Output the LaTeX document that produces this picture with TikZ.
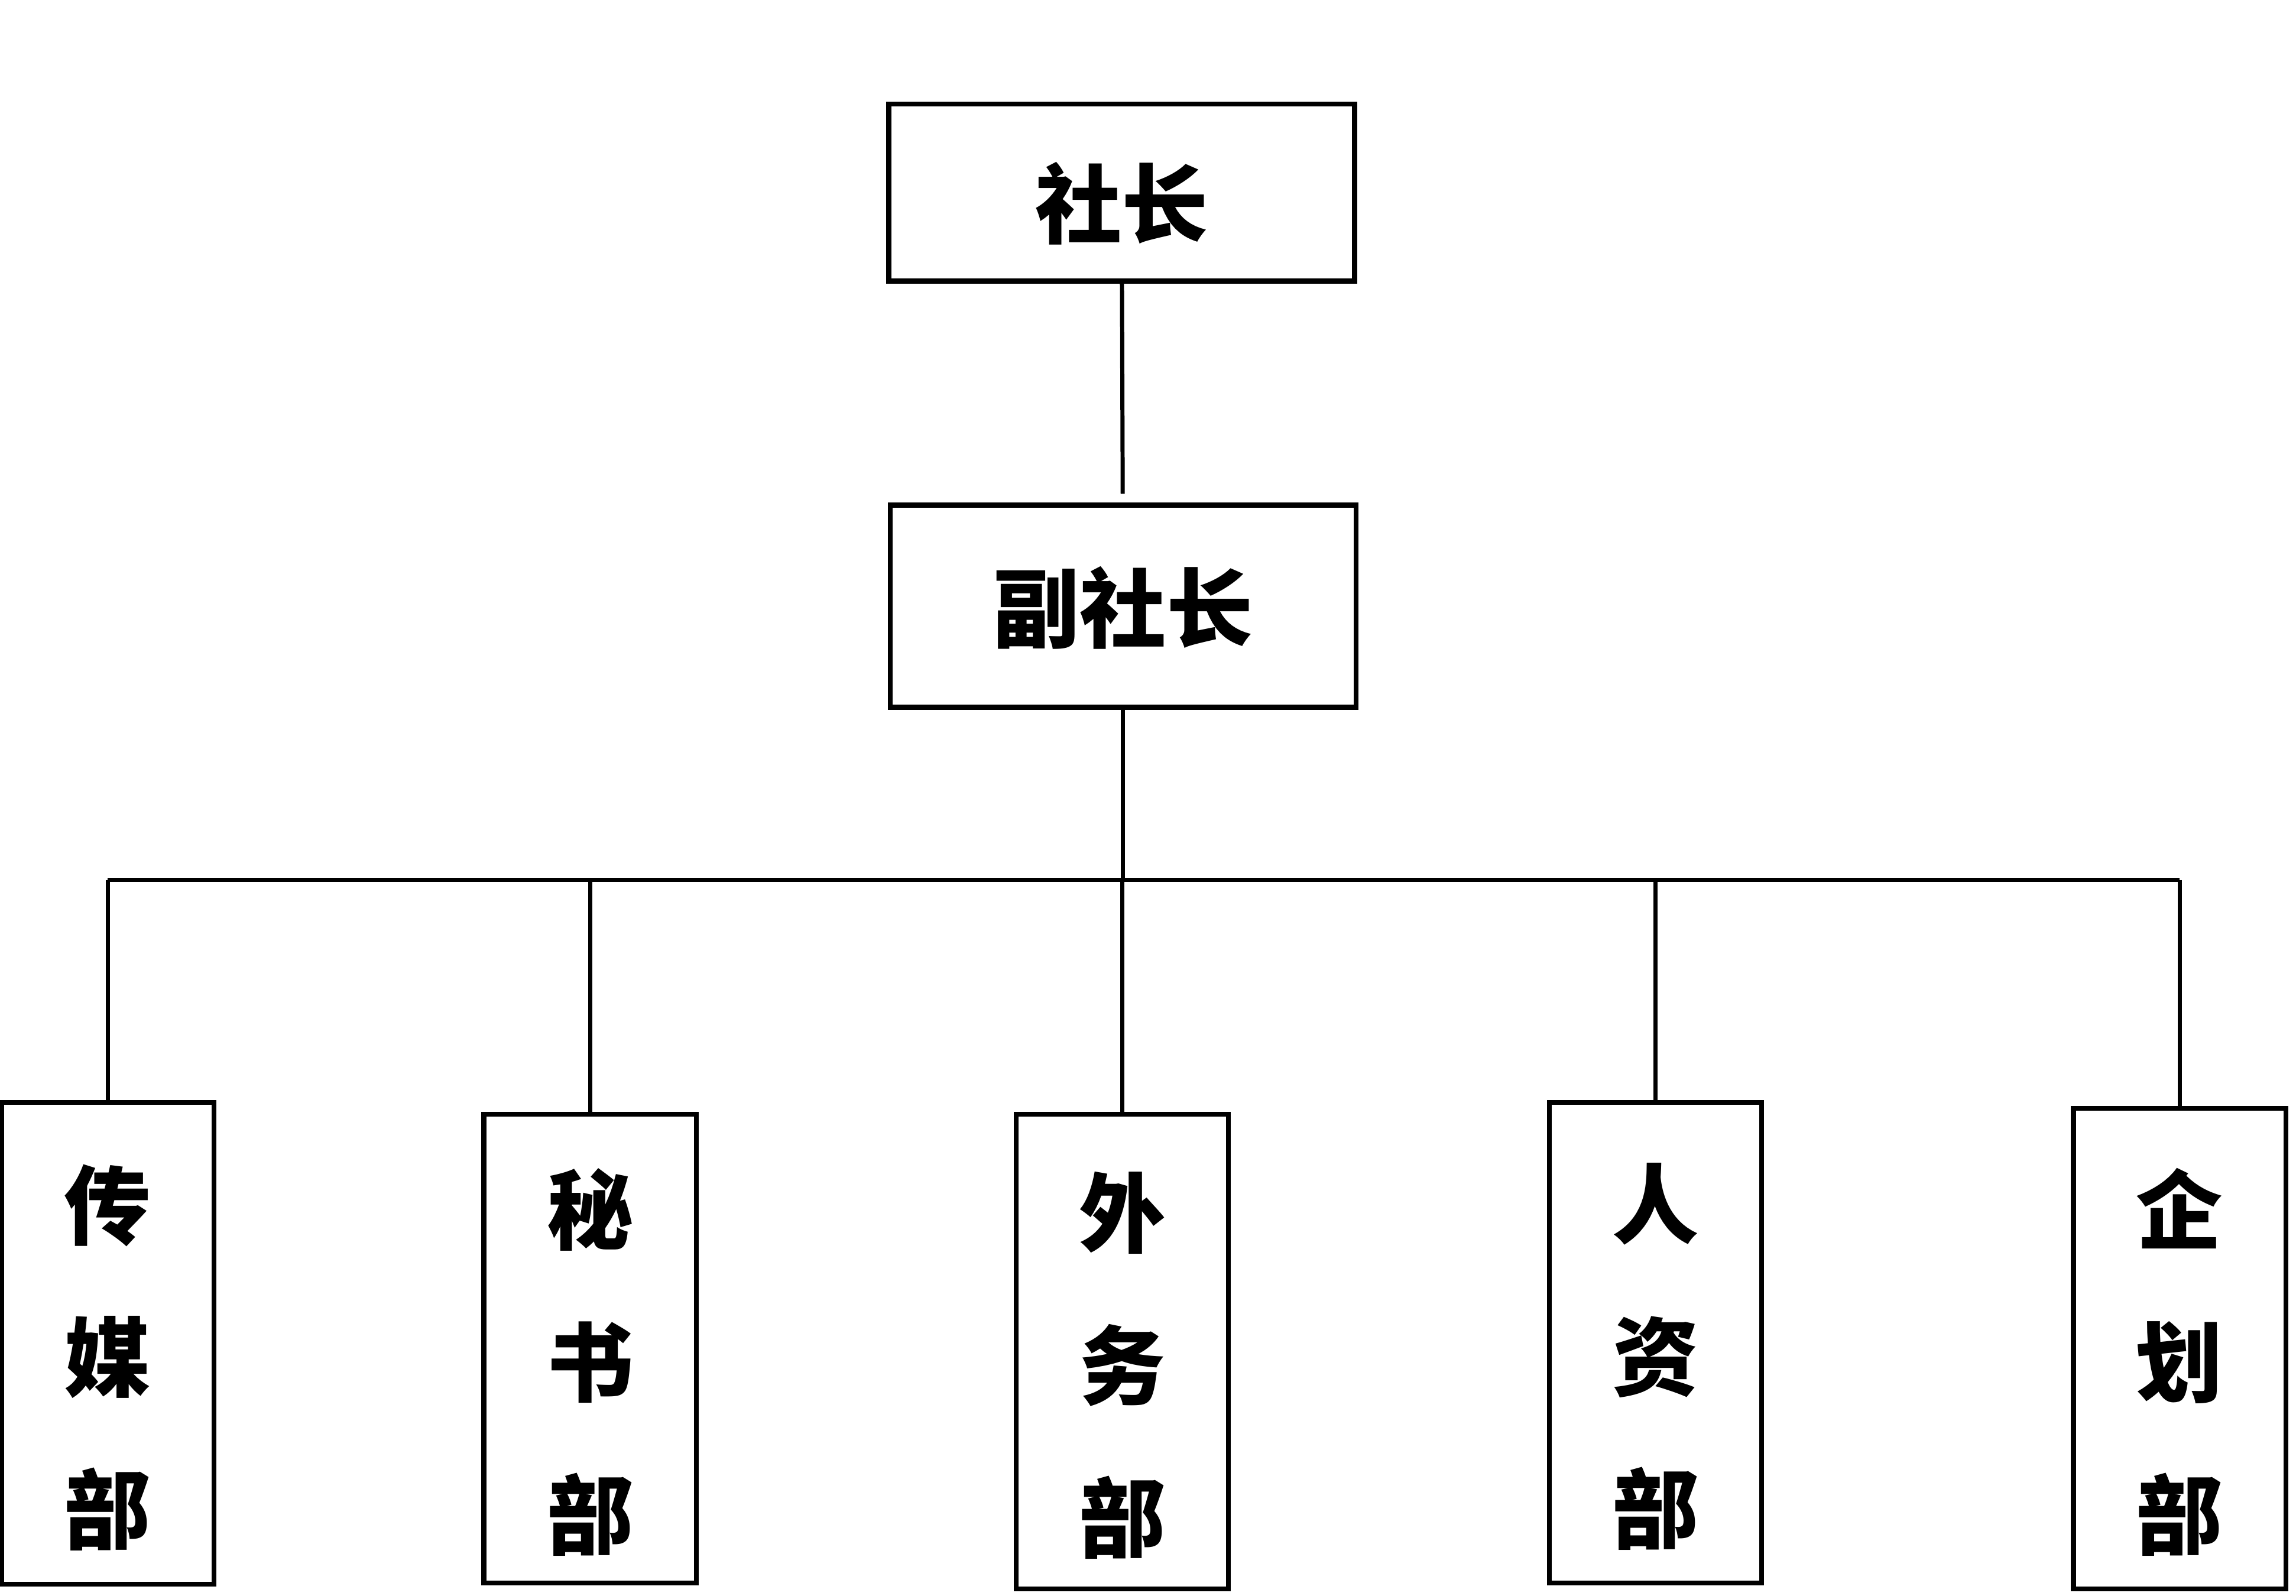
\documentclass[tikz,border=0pt]{standalone}
\usepackage{fontspec}
\setmainfont{Noto Sans CJK SC}
\begin{document}
\begin{tikzpicture}[
  x=0.025cm, y=-0.025cm,
  line width=2pt,
  font=\fontsize{42pt}{74pt}\selectfont\bfseries,
  post/.style={draw, rectangle, inner sep=0pt, line width=2.4pt, text height=1.5cm, text depth=0pt, minimum width=7.95cm},
  dept/.style={draw, rectangle, inner sep=0pt, line width=2.4pt, text height=6.8cm, text depth=0pt, align=center, minimum width=3.625cm}
]
\useasboundingbox (0,0) rectangle (1568,1090);
\node[post, minimum height=3.025cm] (pres) at (766,131.5) {社长};
\node[post, minimum height=3.45cm, text height=1.2cm] (vice) at (767,414) {副社长};
\node[dept, minimum height=8.225cm] (media) at (73.5,917.5) {传\\媒\\部};
\node[dept, minimum height=8cm] (sec) at (403,921) {秘\\书\\部};
\node[dept, minimum height=8.1cm] (ext) at (766.5,923) {外\\务\\部};
\node[dept, minimum height=8.2cm] (hr) at (1130.5,917) {人\\资\\部};
\node[dept, minimum height=8.2cm] (plan) at (1488.5,921) {企\\划\\部};
\coordinate (hub) at (767,601);
\draw[shorten >=0.15cm] (pres) -- (vice);
\draw (vice) -- (hub);
\draw (media.north |- hub) -- (plan.north |- hub);
\foreach \d in {media,sec,ext,hr,plan}
  \draw (\d.north |- hub) -- (\d.north);
\end{tikzpicture}
\end{document}
